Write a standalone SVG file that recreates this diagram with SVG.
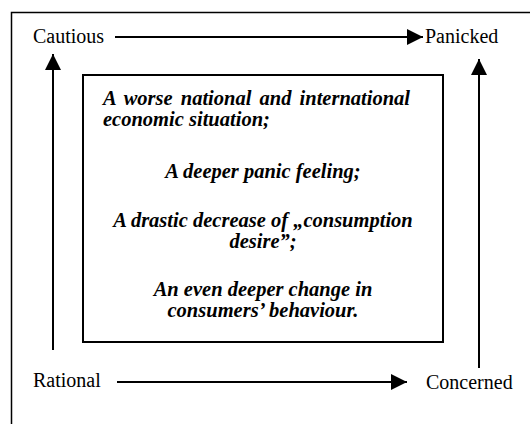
<svg xmlns="http://www.w3.org/2000/svg" width="530" height="424" viewBox="0 0 530 424">
<style>
.lbl{font-family:"Liberation Serif","Times New Roman",serif;font-size:20px;fill:#000}
.it{font-family:"Liberation Serif","Times New Roman",serif;font-size:20.5px;font-weight:bold;font-style:italic;fill:#000}
.conn{stroke:#000;stroke-width:2;fill:none}
.box{fill:#fff;stroke:#000;stroke-width:2}
</style>
<defs>
<marker id="ah" markerUnits="userSpaceOnUse" markerWidth="18" markerHeight="18" viewBox="0 0 18 18" refX="16" refY="8" orient="auto">
<path d="M0,0 L16,8 L0,16 Z" fill="#000"/>
</marker>
</defs>
<rect x="11.5" y="12.5" width="560" height="450" fill="#fff" stroke="#000" stroke-width="1.5"/>
<g id="connectors">
<line class="conn" x1="115" y1="37" x2="423" y2="37" marker-end="url(#ah)"/>
<line class="conn" x1="53" y1="350" x2="53" y2="54" marker-end="url(#ah)"/>
<line class="conn" x1="479" y1="368" x2="479" y2="59" marker-end="url(#ah)"/>
<line class="conn" x1="117" y1="382" x2="407" y2="382" marker-end="url(#ah)"/>
</g>
<g id="cautious"><text class="lbl" x="33" y="43">Cautious</text></g>
<g id="panicked"><text class="lbl" x="425" y="43">Panicked</text></g>
<g id="rational"><text class="lbl" x="33" y="387">Rational</text></g>
<g id="concerned"><text class="lbl" x="426" y="389">Concerned</text></g>
<g id="center">
<rect class="box" x="83" y="75" width="360" height="267"/>
<text class="it" x="103" y="105" word-spacing="3">A worse national and international</text>
<text class="it" x="103" y="126">economic situation;</text>
<text class="it" x="263" y="178" text-anchor="middle">A deeper panic feeling;</text>
<text class="it" x="263" y="227" text-anchor="middle">A drastic decrease of „consumption</text>
<text class="it" x="263" y="248" text-anchor="middle">desire”;</text>
<text class="it" x="263" y="296" text-anchor="middle">An even deeper change in</text>
<text class="it" x="263" y="317" text-anchor="middle">consumers’ behaviour.</text>
</g>
</svg>
